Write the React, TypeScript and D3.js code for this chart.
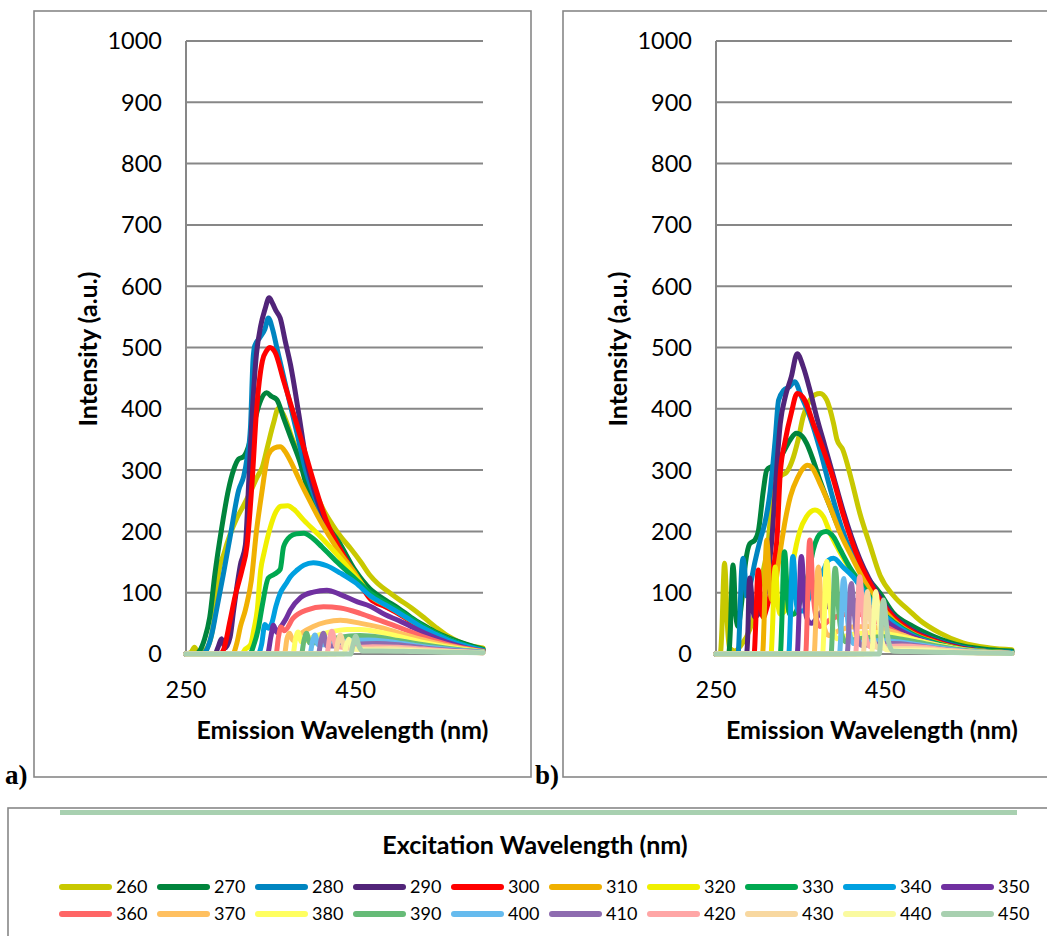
import React from 'react';
import * as d3 from 'd3';

type Pt = [number, number];

// ---------- categories ----------
const excitation = [260, 270, 280, 290, 300, 310, 320, 330, 340, 350, 360, 370, 380, 390, 400, 410, 420, 430, 440, 450];
const seriesColors = ['#c8c800', '#00843c', '#0085c0', '#512479', '#ff0000', '#f0b000', '#f0f000', '#00a850', '#00a0e0', '#7030a0',
  '#ff6666', '#ffc060', '#ffff60', '#66bb77', '#66bbee', '#8e6cb0', '#ffa6a6', '#f8d8a0', '#fafaa0', '#a8d0b0'];
const yTicks = [0, 100, 200, 300, 400, 500, 600, 700, 800, 900, 1000];
const xTicks = [250, 450];

// ---------- panel a : [emission nm, intensity] ----------
const a260: Pt[] = [[250,0],[256,3],[260,11],[264,3],[272,6],[278,20],[283,55],[288,128],[295,165],[302,195],[310,222],[317,240],[325,262],[334,289],[340,305],[346,338],[353,376],[359,401],[365,390],[375,352],[385,318],[394,288],[403,262],[412,235],[422,212],[432,192],[444,172],[456,150],[467,128],[476,115],[490,100],[500,90],[515,76],[530,60],[545,43],[558,30],[575,18],[590,12],[600,10]];
const a270: Pt[] = [[250,0],[262,0],[266,5],[272,25],[278,60],[284,130],[292,205],[300,268],[306,300],[312,318],[318,322],[324,340],[330,375],[337,410],[345,426],[351,420],[357,415],[365,385],[373,355],[385,310],[394,265],[403,240],[412,218],[430,183],[450,135],[467,106],[485,88],[500,75],[515,60],[530,47],[545,35],[560,26],[580,16],[600,8]];
const a280: Pt[] = [[250,0],[270,0],[274,6],[280,30],[286,72],[294,130],[302,191],[312,267],[318,290],[322,320],[326,370],[329,480],[331,503],[337,516],[343,530],[347,548],[352,530],[357,500],[369,429],[381,359],[390,305],[400,262],[416,210],[432,170],[450,128],[467,96],[485,80],[500,68],[515,55],[530,43],[545,32],[560,23],[580,13],[600,6]];
const a290: Pt[] = [[250,0],[284,0],[288,12],[292,25],[296,10],[302,28],[306,70],[310,110],[314,145],[320,178],[324,283],[328,391],[333,489],[338,535],[343,562],[348,581],[352,572],[356,560],[361,548],[367,510],[373,473],[383,391],[391,321],[400,272],[416,210],[432,170],[450,128],[467,92],[485,78],[500,68],[515,54],[530,42],[545,31],[560,22],[580,12],[600,6]];
const a300: Pt[] = [[250,0],[290,0],[294,6],[302,55],[308,95],[316,137],[322,178],[328,283],[333,395],[340,478],[345,495],[349,500],[355,492],[365,446],[377,391],[391,326],[400,283],[416,215],[432,170],[450,127],[467,90],[485,77],[500,66],[515,53],[530,41],[545,30],[560,21],[580,12],[600,6]];
const a310: Pt[] = [[250,0],[305,0],[310,18],[314,44],[320,72],[327,120],[333,200],[339,260],[347,325],[354,336],[361,338],[367,330],[373,315],[385,280],[394,255],[408,218],[428,172],[450,130],[467,95],[485,80],[500,68],[515,55],[530,43],[545,32],[560,23],[580,13],[600,6]];
const a320: Pt[] = [[250,0],[315,0],[320,8],[326,15],[330,40],[334,72],[338,137],[342,165],[349,205],[356,232],[362,241],[370,242],[377,236],[389,218],[408,192],[428,162],[450,126],[467,98],[485,82],[500,70],[515,57],[530,44],[545,33],[560,23],[580,13],[600,6]];
const a330: Pt[] = [[250,0],[325,0],[330,15],[335,40],[340,80],[347,124],[354,130],[361,138],[365,175],[373,192],[380,196],[389,197],[400,188],[410,175],[428,150],[450,122],[467,100],[485,84],[500,72],[515,58],[530,45],[545,34],[560,24],[580,14],[600,7]];
const a340: Pt[] = [[250,0],[335,0],[339,15],[343,48],[347,42],[351,50],[356,78],[361,99],[368,115],[373,126],[381,137],[389,145],[400,149],[416,144],[432,132],[450,116],[467,95],[485,80],[500,68],[515,55],[530,42],[545,32],[560,22],[580,13],[600,6]];
const a350: Pt[] = [[250,0],[346,0],[350,28],[353,47],[357,35],[362,45],[368,58],[373,72],[385,92],[400,101],[416,104],[432,97],[452,85],[467,78],[485,64],[500,55],[515,45],[530,35],[545,26],[560,18],[580,10],[600,5]];
const a360: Pt[] = [[250,0],[356,0],[359,28],[362,44],[366,38],[376,58],[393,72],[412,77],[432,75],[456,66],[476,56],[500,44],[515,36],[530,28],[545,21],[560,15],[580,9],[600,4]];
const a370: Pt[] = [[250,0],[366,0],[369,25],[372,34],[376,22],[385,33],[400,45],[415,52],[432,55],[456,50],[480,43],[500,35],[530,23],[560,13],[580,8],[600,4]];
const a380: Pt[] = [[250,0],[376,0],[379,24],[382,36],[386,20],[400,28],[420,36],[440,40],[456,40],[480,35],[500,29],[530,19],[560,11],[580,7],[600,3]];
const a390: Pt[] = [[250,0],[386,0],[389,22],[392,34],[396,18],[410,20],[430,27],[455,30],[480,27],[500,22],[530,15],[560,9],[600,3]];
const a400: Pt[] = [[250,0],[396,0],[399,20],[402,31],[406,15],[420,16],[440,21],[465,23],[490,20],[520,14],[550,9],[600,3]];
const a410: Pt[] = [[250,0],[406,0],[409,22],[412,34],[416,13],[430,13],[450,16],[475,17],[500,15],[530,10],[560,6],[600,2]];
const a420: Pt[] = [[250,0],[416,0],[419,24],[422,37],[427,12],[445,10],[470,12],[500,11],[530,8],[560,5],[600,2]];
const a430: Pt[] = [[250,0],[426,0],[429,20],[432,31],[437,10],[460,8],[490,9],[520,7],[560,4],[600,2]];
const a440: Pt[] = [[250,0],[436,0],[439,15],[442,24],[447,8],[470,6],[500,6],[540,4],[600,2]];
const a450: Pt[] = [[250,0],[444,0],[447,16],[450,29],[454,12],[458,5],[480,5],[520,4],[560,3],[600,2]];

// ---------- panel b ----------
const b260: Pt[] = [[250,0],[255,0],[257,40],[259,125],[260,148],[261,135],[263,60],[266,10],[272,5],[280,15],[290,40],[298,80],[305,130],[312,186],[316,250],[322,284],[328,292],[333,296],[340,315],[347,349],[353,387],[361,414],[367,423],[373,425],[381,414],[389,376],[393,350],[400,333],[410,285],[420,230],[432,178],[444,128],[460,95],[479,70],[491,55],[515,34],[542,18],[574,10],[600,7]];
const b270: Pt[] = [[250,0],[265,0],[267,40],[269,125],[270,145],[271,135],[273,70],[276,45],[280,80],[285,150],[290,180],[296,186],[300,200],[306,267],[310,300],[316,306],[322,312],[330,330],[338,350],[345,360],[352,355],[357,344],[365,316],[373,283],[385,240],[400,190],[420,140],[444,99],[459,68],[483,45],[507,29],[542,13],[574,7],[600,5]];
const b280: Pt[] = [[250,0],[276,0],[278,50],[280,130],[282,156],[284,135],[286,95],[290,110],[296,150],[302,185],[308,215],[314,265],[320,350],[324,414],[330,430],[337,436],[343,444],[351,420],[361,387],[373,333],[385,270],[400,200],[420,140],[444,90],[460,62],[483,38],[507,24],[540,11],[570,5],[600,3]];
const b290: Pt[] = [[250,0],[286,0],[288,50],[289,110],[290,124],[291,115],[293,80],[296,60],[300,65],[305,80],[310,115],[316,186],[320,267],[326,376],[332,420],[339,452],[346,490],[353,469],[361,431],[369,387],[379,338],[389,289],[400,235],[420,155],[444,92],[460,62],[483,38],[507,23],[540,10],[570,4],[600,2]];
const b300: Pt[] = [[250,0],[295,0],[297,50],[299,125],[300,137],[301,128],[303,80],[306,60],[310,75],[315,105],[318,140],[322,186],[326,295],[332,349],[339,393],[346,425],[355,414],[365,376],[377,333],[389,284],[400,229],[420,150],[444,88],[460,60],[483,36],[507,22],[540,9],[570,4],[600,2]];
const b310: Pt[] = [[250,0],[305,0],[307,60],[309,170],[310,186],[311,175],[313,120],[316,88],[320,110],[324,150],[328,186],[332,219],[338,257],[347,289],[353,303],[358,308],[363,305],[373,278],[385,240],[397,197],[410,160],[425,120],[444,80],[460,55],[483,33],[507,20],[540,8],[570,4],[600,2]];
const b320: Pt[] = [[250,0],[315,0],[317,50],[319,130],[320,142],[321,132],[323,85],[326,65],[331,70],[336,100],[341,148],[345,178],[349,200],[357,224],[362,232],[367,235],[372,232],[377,224],[385,197],[395,170],[410,135],[425,100],[444,68],[460,48],[483,30],[507,18],[540,8],[570,4],[600,2]];
const b330: Pt[] = [[250,0],[326,0],[328,60],[330,155],[331,167],[332,158],[334,100],[337,65],[342,65],[348,80],[354,105],[360,135],[365,170],[370,190],[375,198],[380,200],[389,191],[397,170],[408,142],[424,110],[440,77],[460,52],[483,32],[507,19],[540,8],[570,4],[600,2]];
const b340: Pt[] = [[250,0],[336,0],[338,60],[340,150],[341,159],[342,150],[344,100],[347,70],[353,70],[360,92],[368,115],[377,137],[383,153],[389,156],[400,142],[412,126],[424,104],[440,75],[460,50],[483,30],[507,17],[540,7],[570,3],[600,2]];
const b350: Pt[] = [[250,0],[346,0],[348,60],[350,150],[351,159],[352,150],[354,100],[357,60],[363,50],[372,65],[385,82],[400,90],[415,87],[430,77],[444,62],[460,45],[483,28],[507,16],[540,7],[570,3],[600,1]];
const b360: Pt[] = [[250,0],[356,0],[358,70],[360,175],[361,186],[362,176],[364,120],[367,70],[373,45],[385,56],[400,64],[415,66],[430,60],[444,50],[460,38],[483,24],[507,14],[540,6],[570,3],[600,1]];
const b370: Pt[] = [[250,0],[366,0],[368,55],[370,135],[371,142],[372,134],[374,90],[377,50],[383,30],[395,38],[410,44],[430,45],[450,40],[470,31],[490,22],[520,12],[550,5],[600,1]];
const b380: Pt[] = [[250,0],[376,0],[378,55],[380,145],[381,151],[382,143],[384,95],[387,50],[393,25],[405,30],[420,34],[440,35],[460,31],[480,25],[500,18],[530,10],[560,4],[600,1]];
const b390: Pt[] = [[250,0],[386,0],[388,50],[390,132],[391,140],[392,132],[394,90],[397,45],[403,20],[415,24],[430,27],[450,28],[470,24],[490,19],[520,11],[550,5],[600,1]];
const b400: Pt[] = [[250,0],[396,0],[398,45],[400,116],[401,123],[402,116],[404,80],[407,40],[413,17],[425,19],[445,22],[465,20],[490,15],[520,9],[550,4],[600,1]];
const b410: Pt[] = [[250,0],[405,0],[407,40],[409,108],[410,115],[411,108],[413,75],[416,35],[422,14],[440,16],[460,17],[485,14],[515,8],[550,3],[600,1]];
const b420: Pt[] = [[250,0],[415,0],[417,45],[419,118],[420,126],[421,118],[423,80],[426,38],[432,12],[450,12],[470,13],[495,11],[525,6],[560,2],[600,1]];
const b430: Pt[] = [[250,0],[424,0],[426,35],[428,95],[429,102],[430,95],[432,65],[435,30],[441,10],[460,9],[485,9],[510,7],[540,4],[600,1]];
const b440: Pt[] = [[250,0],[434,0],[436,35],[438,95],[439,102],[440,95],[442,65],[445,30],[451,7],[470,6],[495,6],[530,3],[600,1]];
const b450: Pt[] = [[250,0],[443,0],[445,30],[447,82],[448,88],[449,82],[451,55],[454,20],[459,5],[480,4],[510,3],[550,2],[600,1]];

const panelASeries = [a260, a270, a280, a290, a300, a310, a320, a330, a340, a350, a360, a370, a380, a390, a400, a410, a420, a430, a440, a450];
const panelBSeries = [b260, b270, b280, b290, b300, b310, b320, b330, b340, b350, b360, b370, b380, b390, b400, b410, b420, b430, b440, b450];

const FONT = 'Lato, "Open Sans", sans-serif';
const GRID = '#878787';

function Panel({ left, right, frameX, frameW, series, tag, tagX }: any) {
  const x = d3.scaleLinear().domain([250, 600]).range([left, right]);
  const y = d3.scaleLinear().domain([0, 1000]).range([654, 41]);
  const line = d3.line<Pt>().x(d => x(d[0])).y(d => y(d[1])).curve(d3.curveMonotoneX);
  return (
    <g>
      <rect x={frameX} y={11} width={frameW} height={766} fill="#fff" stroke={GRID} strokeWidth={1.6} />
      {yTicks.filter(t => t > 0).map(t => (
        <line key={t} x1={left} x2={right} y1={y(t)} y2={y(t)} stroke={GRID} strokeWidth={2} />
      ))}
      <line x1={left} x2={left} y1={y(1000)} y2={y(0)} stroke={GRID} strokeWidth={2} />
      <line x1={left} x2={right} y1={y(0)} y2={y(0)} stroke={GRID} strokeWidth={2} />
      {yTicks.map(t => (
        <text key={t} x={left - 24} y={y(t)} dy="0.36em" textAnchor="end" fontSize={23.5} fontFamily={FONT} fill="#000">{t}</text>
      ))}
      {xTicks.map(t => (
        <text key={t} x={x(t)} y={690} dy="0.36em" textAnchor="middle" fontSize={23.5} fontFamily={FONT} fill="#000">{t}</text>
      ))}
      {series.map((s: Pt[], i: number) => (
        <path key={i} d={line(s) || ''} fill="none" stroke={seriesColors[i]} strokeWidth={5}
          strokeLinejoin="round" strokeLinecap="round" />
      ))}
      <text x={left - 98} y={349} transform={`rotate(-90 ${left - 98} 349)`} textAnchor="middle" dy="0.36em"
        fontSize={25} fontWeight="bold" fontFamily={FONT} fill="#000">Intensity (a.u.)</text>
      <text x={(left + right) / 2 + 8} y={730} textAnchor="middle" dy="0.36em"
        fontSize={25} fontWeight="bold" fontFamily={FONT} fill="#000">Emission Wavelength (nm)</text>
      <text x={tagX} y={784} fontSize={27} fontWeight="bold" fontFamily='"Liberation Serif", "Times New Roman", serif' fill="#000">{tag}</text>
    </g>
  );
}

export default function App() {
  const legendX = d3.scaleLinear().domain([0, 10]).range([59, 1039]);
  return (
    <svg width={1047} height={936} style={{ position: 'absolute', left: 0, top: 0, background: '#fff' }}>
      <rect x={0} y={0} width={1047} height={936} fill="#fff" />
      <Panel left={186} right={483} frameX={34} frameW={497} series={panelASeries} tag="a)" tagX={5} />
      <Panel left={716} right={1012} frameX={563} frameW={490} series={panelBSeries} tag="b)" tagX={535} />
      <rect x={8} y={808} width={1045} height={140} fill="#fff" stroke={GRID} strokeWidth={1.6} />
      <rect x={60} y={810} width={957} height={5} fill="#a8d0b0" />
      <text x={535} y={845} textAnchor="middle" dy="0.36em" fontSize={25} fontWeight="bold" fontFamily={FONT} fill="#000">Excitation Wavelength (nm)</text>
      {excitation.map((ex, i) => {
        const col = i % 10;
        const row = Math.floor(i / 10);
        const x0 = legendX(col);
        const yy = row === 0 ? 887 : 914;
        return (
          <g key={ex}>
            <line x1={x0 + 3} x2={x0 + 50} y1={yy} y2={yy} stroke={seriesColors[i]} strokeWidth={6} strokeLinecap="round" />
            <text x={x0 + 57} y={yy} dy="0.36em" fontSize={18} fontFamily={FONT} fill="#000">{ex}</text>
          </g>
        );
      })}
    </svg>
  );
}
